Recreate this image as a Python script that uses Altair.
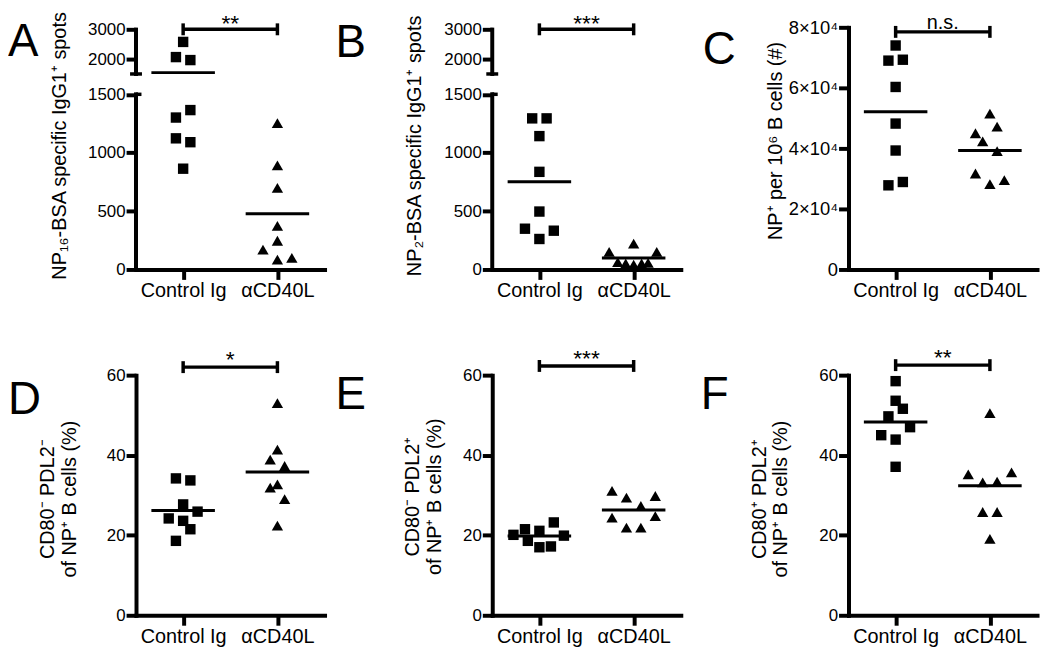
import altair as alt
import pandas as pd

FONT = "Liberation Sans, Arial, Helvetica, sans-serif"
categories = ["Control Ig", "αCD40L"]

# ---- data ----
A_ctrl = [2584, 2071, 1970, 1301, 1365, 1123, 1090, 863]
A_ctrl_slot = [0, -0.5, 0.5, -0.5, 0.5, -0.5, 0.5, 0]
A_anti = [1254, 891, 699, 374, 246, 170, 85, 99]
A_anti_slot = [0, 0, 0, 0, 0, -1, 0, 1]

B_ctrl = [1294, 1294, 1142, 836, 496, 349, 332, 261]
B_ctrl_slot = [-0.5, 0.5, 0, 0, 0, -1, 1, 0]
B_anti = [221, 150, 150, 62, 51, 42, 51, 57]
B_anti_slot = [0, -1.7, 1.6, -1.1, -0.55, 0, 0.55, 1.0]

C_ctrl = [74000, 69000, 69300, 60300, 48200, 39300, 27800, 28900]
C_ctrl_slot = [0, -0.5, 0.5, 0, 0, 0, -0.5, 0.5]
C_anti = [51500, 45000, 47200, 42300, 39100, 31700, 28200, 29500]
C_anti_slot = [0, -1, 0.5, -0.5, 0.5, -1, 0, 1]

D_ctrl = [34.2, 33.7, 27.7, 25.9, 24.2, 23.6, 21.5, 18.6]
D_ctrl_slot = [-0.5, 0.5, 0, 1, -1, 0, 0.5, -0.5]
D_anti = [53.0, 41.4, 38.9, 37.3, 32.7, 31.9, 29.0, 22.4]
D_anti_slot = [0, 0, -0.5, 0.5, 0, -0.5, 0.5, 0]

E_ctrl = [20.1, 21.5, 18.6, 21.1, 17.0, 23.2, 17.2, 19.9]
E_ctrl_slot = [-1.8, -1.0, -0.8, 0, 0, 1.0, 0.8, 1.7]
E_anti = [31.1, 29.4, 29.8, 27.3, 24.4, 24.8, 21.9, 21.9]
E_anti_slot = [-1.5, -0.5, 1.5, 0.5, -1.5, 1.5, -0.5, 0.5]

F_ctrl = [58.5, 53.6, 51.6, 49.7, 47.0, 45.0, 43.9, 37.1]
F_ctrl_slot = [0, 0, 0.5, -0.5, 1, -1, 0, 0]
F_anti = [50.5, 35.2, 35.7, 33.2, 33.4, 25.8, 25.8, 19.1]
F_anti_slot = [0, -1.5, 1.5, -0.5, 0.5, -0.5, 0.5, 0]

significance = {"A": "**", "B": "***", "C": "n.s.", "D": "*", "E": "***", "F": "**"}

y_titles = {
    "A": "NP₁₆-BSA specific IgG1⁺ spots",
    "B": "NP₂-BSA specific IgG1⁺ spots",
    "C": "NP⁺ per 10⁶ B cells (#)",
    "D": ["CD80⁻ PDL2⁻", "of NP⁺ B cells (%)"],
    "E": ["CD80⁻ PDL2⁺", "of NP⁺ B cells (%)"],
    "F": ["CD80⁺ PDL2⁺", "of NP⁺ B cells (%)"],
}

broken_ticks = [0, 500, 1000, 1500, 2000, 3000]
pct_ticks = [0, 20, 40, 60]
c_ticks = [0, 20000, 40000, 60000, 80000]

# ---- style ----
SPREAD = 0.153
W = 190
H1, H2 = 244, 242
BREAK_LO, BREAK_HI = 1500, 1500.001

xscale = alt.Scale(domain=[0.5, 2.5], nice=False, zero=False)
x_label_expr = "datum.value == 1 ? '%s' : '%s'" % (categories[0], categories[1])


def make_xaxis():
    return alt.Axis(values=[1, 2], labelExpr=x_label_expr, title=None,
                    labelFontSize=20, labelPadding=1, tickSize=10)


def make_df(ctrl, ctrl_slot, anti, anti_slot):
    rows = []
    for gi, (vals, slots) in enumerate([(ctrl, ctrl_slot), (anti, anti_slot)], start=1):
        for v, s in zip(vals, slots):
            rows.append({"group": categories[gi - 1], "g": gi, "value": v,
                         "xpos": gi + s * SPREAD})
    return pd.DataFrame(rows)


def panel(key, ctrl, ctrl_slot, anti, anti_slot, yscale, yaxis_kw, bracket_y,
          sig_dy, sig_size, letter_xy, height, broken=False):
    df = make_df(ctrl, ctrl_slot, anti, anti_slot)

    def make_yaxis():
        kw = dict(title=y_titles[key], titleFontSize=20, titleLineHeight=22,
                  labelFontSize=17, labelPadding=1, tickSize=10, domain=not broken)
        kw.update(yaxis_kw)
        return alt.Axis(**kw)

    def X(field):
        return alt.X(field, type="quantitative", scale=xscale, axis=make_xaxis())

    def Y(field):
        return alt.Y(field, type="quantitative", scale=yscale, axis=make_yaxis())

    base = alt.Chart(df)
    squares = base.transform_filter(alt.datum.g == 1).mark_point(
        shape="square", filled=True, size=110, color="black", opacity=1
    ).encode(x=X("xpos"), y=Y("value"))
    tris = base.transform_filter(alt.datum.g == 2).mark_point(
        shape="triangle-up", filled=True, size=130, color="black", opacity=1
    ).encode(x=X("xpos"), y=Y("value"))
    means = base.mark_tick(orient="horizontal", size=64, thickness=3, color="black").encode(
        x=X("g"), y=Y("mean(value)")
    )

    bdf = pd.DataFrame({"x1": [1.0], "x2": [2.0], "y": [bracket_y],
                        "xm": [1.5], "lab": [significance[key]]})
    bar = alt.Chart(bdf).mark_rule(color="black", strokeWidth=3.5).encode(
        x=X("x1"), x2="x2", y=Y("y"))
    cdf = pd.DataFrame({"x": [1.0, 2.0], "y": [bracket_y, bracket_y]})
    caps = alt.Chart(cdf).mark_point(shape="M0,-1L0,1", size=144, strokeWidth=3.5,
                                     filled=False, color="black", opacity=1).encode(
        x=X("x"), y=Y("y"))
    star = alt.Chart(bdf).mark_text(font=FONT, fontSize=sig_size, baseline="alphabetic",
                                    align="center", dy=sig_dy, color="black").encode(
        x=X("xm"), y=Y("y"), text="lab:N")

    ldf = pd.DataFrame({"t": [key]})
    letter = alt.Chart(ldf).mark_text(font=FONT, fontSize=46, align="left",
                                      baseline="alphabetic", color="black").encode(
        x=alt.value(letter_xy[0]), y=alt.value(letter_xy[1]), text="t:N")

    layers = [squares, tris, means, bar, caps, star, letter]

    if broken:
        seg = pd.DataFrame({"lo": [0, BREAK_HI], "hi": [BREAK_LO, 3000]})
        segs = alt.Chart(seg).mark_rule(color="black", strokeWidth=4,
                                        strokeCap="square").encode(
            x=alt.value(0), y=Y("lo"), y2="hi")
        cap_hi = alt.Chart(pd.DataFrame({"y": [BREAK_HI]})).mark_rule(
            color="black", strokeWidth=3.5).encode(
            x=alt.value(-6), x2=alt.value(6), y=Y("y"))
        cap_lo = alt.Chart(pd.DataFrame({"y": [BREAK_LO]})).mark_rule(
            color="black", strokeWidth=3.5).encode(
            x=alt.value(0), x2=alt.value(5.5), y=Y("y"))
        layers = layers + [segs, cap_hi, cap_lo]

    return alt.layer(*layers).properties(width=W, height=height)


broken_scale = alt.Scale(domain=[0, BREAK_LO, BREAK_HI, 3000],
                         range=[H1, 67.5, 47, 2.3], nice=False, zero=False)
c_scale = alt.Scale(domain=[0, 80000], nice=False, zero=False)
pct_scale = alt.Scale(domain=[0, 60], nice=False, zero=False)
c_label_expr = "datum.value == 0 ? '0' : format(datum.value / 10000, 'd') + '×10⁴'"

pA = panel("A", A_ctrl, A_ctrl_slot, A_anti, A_anti_slot, broken_scale,
           dict(values=broken_ticks, format="d", titleX=-67, titleY=119),
           3010, 2, 23, (-129, 29), H1, broken=True)
pB = panel("B", B_ctrl, B_ctrl_slot, B_anti, B_anti_slot, broken_scale,
           dict(values=broken_ticks, format="d", titleX=-68, titleY=119),
           3010, 2, 23, (-158, 30), H1, broken=True)
pC = panel("C", C_ctrl, C_ctrl_slot, C_anti, C_anti_slot, c_scale,
           dict(values=c_ticks, labelExpr=c_label_expr, labelFontSize=18.5,
                titleX=-64, titleY=114),
           78500, -3, 20, (-147, 37), H1)
pD = panel("D", D_ctrl, D_ctrl_slot, D_anti, D_anti_slot, pct_scale,
           dict(values=pct_ticks, titleX=-79, titleY=124.5), 62.0, 0, 23, (-129, 39), H2)
pE = panel("E", E_ctrl, E_ctrl_slot, E_anti, E_anti_slot, pct_scale,
           dict(values=pct_ticks, titleX=-70, titleY=122), 62.3, 0, 23, (-158, 34.5), H2)
pF = panel("F", F_ctrl, F_ctrl_slot, F_anti, F_anti_slot, pct_scale,
           dict(values=pct_ticks, titleX=-80, titleY=124.5), 62.5, 0, 23, (-149, 34.5), H2)

chart = alt.concat(
    pA, pB, pC, pD, pE, pF,
    columns=3,
    spacing={"row": 106.5, "column": 169},
    bounds="flush",
    align="all",
).properties(
    autosize=alt.AutoSizeParams(type="none"),
    padding={"left": 129, "top": 17, "right": 913, "bottom": 625},
    background="white",
).configure_view(stroke=None).configure_axis(
    grid=False,
    domainColor="black", tickColor="black", labelColor="black", titleColor="black",
    domainWidth=4, tickWidth=4, domainCap="square",
    labelFont=FONT, titleFont=FONT, titleFontWeight="normal",
)

chart.save("out.html", embed_options={"renderer": "svg", "actions": False})
